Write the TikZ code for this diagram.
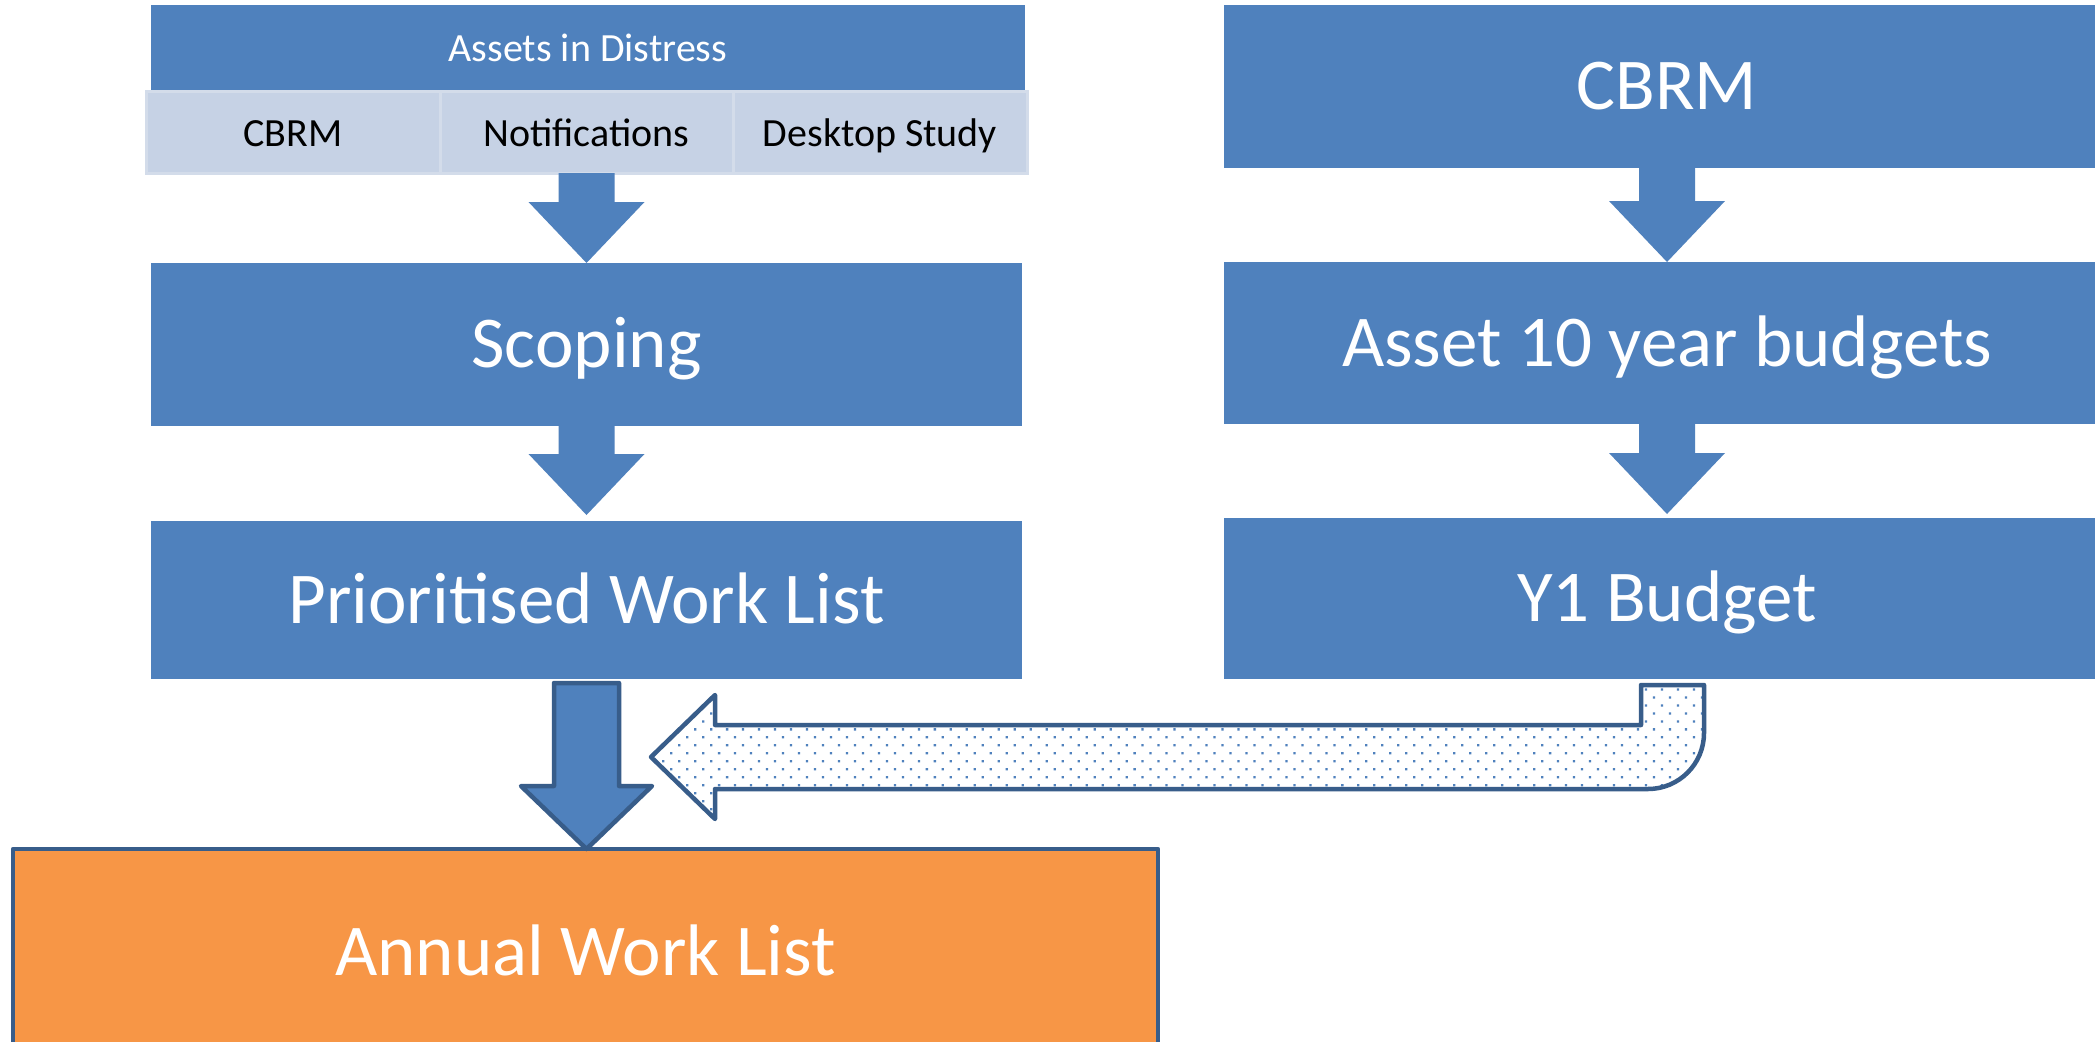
\documentclass[tikz,border=0pt]{standalone}
\usepackage{fontspec}
\setmainfont{Carlito}
\usetikzlibrary{calc,patterns.meta}
\definecolor{sblue}{HTML}{4F81BD}
\definecolor{sdark}{HTML}{385D8A}
\definecolor{sorange}{HTML}{F79646}
\definecolor{scell}{HTML}{C6D2E5}
\definecolor{scellb}{HTML}{D3DCEA}
\newcommand\blockarrow[2]{%
  \fill[sblue] ($(#1)+(-28,0)$) -- ($(#2)+(-28,-61)$) -- ($(#2)+(-58,-61)$) -- (#2)
    -- ($(#2)+(58,-61)$) -- ($(#2)+(28,-61)$) -- ($(#1)+(28,0)$) -- cycle;}
\begin{document}
\begin{tikzpicture}[x=1pt,y=-1pt,
  bigfont/.style={font=\fontsize{73}{80}\selectfont, text height=50pt, text depth=4pt},
  smallfont/.style={font=\fontsize{40}{48}\selectfont, text height=30pt, text depth=2pt},
  box/.style={fill=sblue, text=white, inner sep=0pt, outer sep=0pt, bigfont},
  cellbox/.style={fill=scell, draw=scellb, line width=3pt, text=black, inner sep=0pt, outer sep=0pt,
    minimum height=82pt, smallfont},
  outl/.style={draw=sdark, line width=4.5pt, line join=round}]
\useasboundingbox (0,0) rectangle (2095,1041);
\clip (0,0) rectangle (2095,1041);
\fill[white] (0,0) rectangle (2095,1041);

% left column
\node[box, smallfont, minimum width=874pt, minimum height=86pt] (hdr) at (588,48) {Assets in Distress};
\node[cellbox, minimum width=294pt] (c1) at (293,132) {CBRM};
\node[cellbox, minimum width=293pt] (c2) at (586.5,132) {Notifications};
\node[cellbox, minimum width=294pt] (c3) at (880,132) {Desktop Study};
\node[box, minimum width=871pt, minimum height=163pt] (scop) at (586.5,344.5) {Scoping};
\node[box, minimum width=871pt, minimum height=158pt] (pwl) at (586.5,600) {Prioritised Work List};

% right column
\node[box, minimum width=886pt, minimum height=163pt] (cbrm) at (1667,86.5) {CBRM};
\node[box, minimum width=886pt, minimum height=162pt] (a10) at (1667,343) {Asset 10 year budgets};
\node[box, minimum width=886pt, minimum height=161pt] (y1) at (1667,598.5) {Y1 Budget};

% bottom
\node[fill=sorange, outl, text=white, bigfont, inner sep=0pt, outer sep=0pt,
  minimum width=1145pt, minimum height=206pt] (awl) at (585.5,952) {Annual Work List};

% block arrows
\blockarrow{c2.south}{scop.north}
\coordinate (t2) at ($(pwl.north)+(0,-6)$);
\blockarrow{scop.south}{t2}
\blockarrow{cbrm.south}{a10.north}
\coordinate (t4) at ($(y1.north)+(0,-4)$);
\blockarrow{a10.south}{t4}

% outlined down arrow
\coordinate (dtip) at (pwl.south |- awl.north);
\filldraw[fill=sblue, outl] ($(pwl.south)+(-32.5,4)$) -- ($(dtip)+(-32.5,-63)$) -- ($(dtip)+(-65.5,-63)$)
  -- (dtip) -- ($(dtip)+(65.5,-63)$) -- ($(dtip)+(32.5,-63)$) -- ($(pwl.south)+(32.5,4)$) -- cycle;

% U-turn dotted arrow
\coordinate (uend) at (651,757);
\coordinate (ua) at ($(y1.south)+(-26,6)$);
\coordinate (ub) at ($(y1.south)+(37,6)$);
\coordinate (uin) at ($(uend)+(0,-32)$);
\coordinate (uout) at ($(uend)+(0,32)$);
\path[fill=white] (ua) -- (ub) -- ($(ub |- uout)+(0,-56)$) arc[start angle=0, end angle=90, radius=56]
  -- ($(uend)+(64,32)$) -- ($(uend)+(64,62)$) -- (uend) -- ($(uend)+(64,-62)$) -- ($(uend)+(64,-32)$)
  -- (ua |- uin) -- cycle;
\path[pattern={Dots[radius=1.6pt, distance=11.3pt, angle=45]}, pattern color=sblue]
  (ua) -- (ub) -- ($(ub |- uout)+(0,-56)$) arc[start angle=0, end angle=90, radius=56]
  -- ($(uend)+(64,32)$) -- ($(uend)+(64,62)$) -- (uend) -- ($(uend)+(64,-62)$) -- ($(uend)+(64,-32)$)
  -- (ua |- uin) -- cycle;
\draw[outl] (ua) -- (ub) -- ($(ub |- uout)+(0,-56)$) arc[start angle=0, end angle=90, radius=56]
  -- ($(uend)+(64,32)$) -- ($(uend)+(64,62)$) -- (uend) -- ($(uend)+(64,-62)$) -- ($(uend)+(64,-32)$)
  -- (ua |- uin) -- cycle;
\end{tikzpicture}
\end{document}
